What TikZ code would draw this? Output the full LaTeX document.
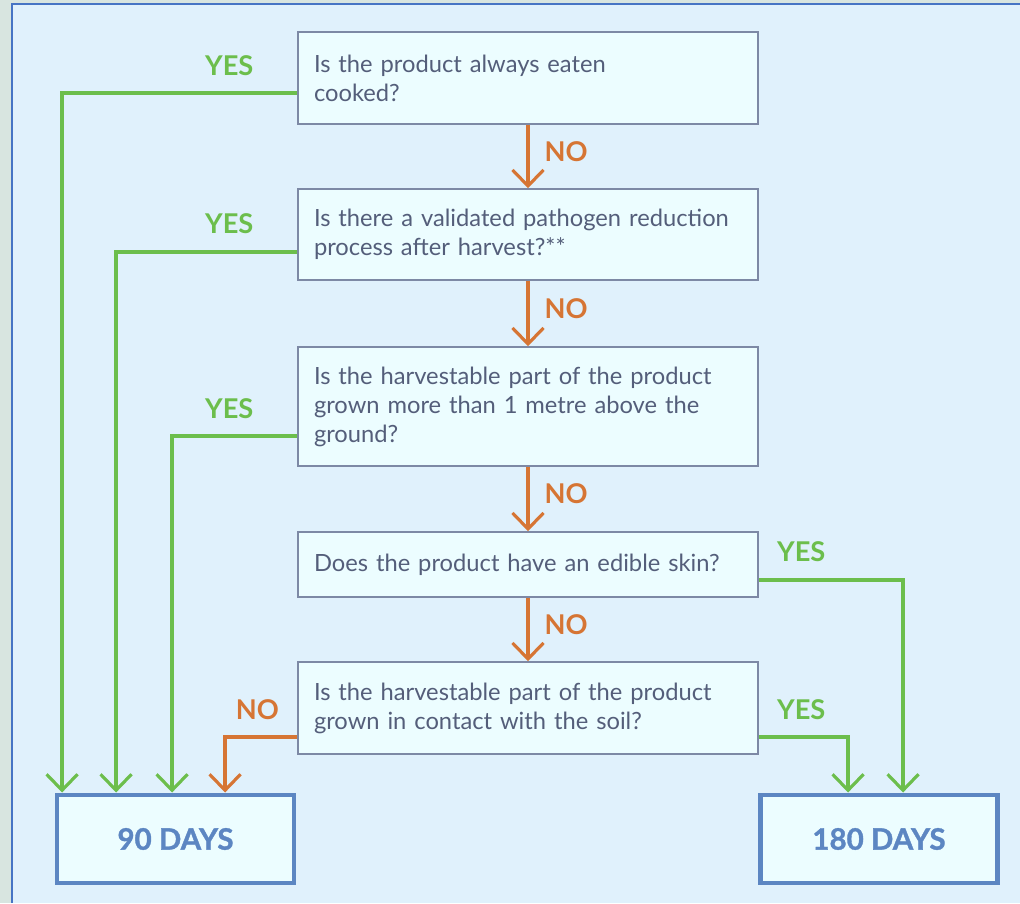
\documentclass[tikz,border=0pt]{standalone}
\usepackage{fontspec}
\setmainfont{Lato}
\newfontfamily\daysfont{Lato}[BoldFeatures={FakeBold=1.2}]
\usepackage{xcolor}
\usepackage{tikz}
\usetikzlibrary{arrows.meta}
\definecolor{page_grey}{RGB}{216, 229, 224}
\definecolor{chart_bg}{RGB}{224, 241, 252}
\definecolor{frame_blue}{RGB}{70, 116, 196}
\definecolor{box_fill}{RGB}{236, 253, 255}
\definecolor{box_line}{RGB}{125, 137, 165}
\definecolor{q_text}{RGB}{84, 94, 122}
\definecolor{yes_green}{RGB}{108, 190, 76}
\definecolor{no_orange}{RGB}{214, 117, 52}
\definecolor{days_blue}{RGB}{92, 134, 194}

\tikzset{
  question/.style={draw=box_line, line width=0.85pt, fill=box_fill, text=q_text,
                   text width=8.56cm, inner xsep=0.32cm, inner ysep=0pt, align=left,
                   font=\fontsize{13.5}{16.5}\selectfont},
  daysbox/.style={draw=days_blue, line width=2.8pt, fill=box_fill, text=days_blue,
                  minimum width=4.74cm, minimum height=1.76cm,
                  font=\daysfont\fontsize{16.8}{18}\selectfont\bfseries},
  yesline/.style={yes_green, line width=1.8pt,
                  -{Straight Barb[length=3.2mm, width=6.2mm]}},
  noline/.style={no_orange, line width=1.8pt,
                 -{Straight Barb[length=3.2mm, width=6.2mm]}},
  yeslbl/.style={text=yes_green, inner sep=0pt, font=\fontsize{15.5}{17}\selectfont\bfseries},
  nolbl/.style={text=no_orange, inner sep=0pt, font=\fontsize{15.5}{17}\selectfont\bfseries}
}

\begin{document}
\begin{tikzpicture}
        \useasboundingbox (0,0) rectangle (20.4,18.06);
        \fill[page_grey] (0,0) rectangle (20.4,18.06);
        \fill[chart_bg] (0.24,0) rectangle (20.4,17.98);
        \draw[frame_blue, line width=1.1pt] (0.24,0) -- (0.24,17.98) -- (20.4,17.98);

        \node[question, minimum height=1.84cm] (q_cooked) at (10.56,16.5)
              {Is the product always eaten\\cooked?};
        \node[question, minimum height=1.82cm] (q_process) at (10.56,13.37)
              {Is there a validated pathogen reduction\\process after harvest?**};
        \node[question, minimum height=2.38cm] (q_height) at (10.56,9.93)
              {Is the harvestable part of the product\\grown more than 1 metre above the\\ground?};
        \node[question, minimum height=1.3cm] (q_skin) at (10.56,6.77)
              {Does the product have an edible skin?};
        \node[question, minimum height=1.84cm] (q_soil) at (10.56,3.9)
              {Is the harvestable part of the product\\grown in contact with the soil?};

        \node[daysbox] (d_90) at (3.51,1.28) {90 DAYS};
        \node[daysbox] (d_180) at (17.58,1.28) {180 DAYS};

        \draw[noline] (q_cooked) -- (q_process)
              node[nolbl, anchor=west, pos=0.42, xshift=0.3cm] (n_cooked) {NO};
        \draw[noline] (q_process) -- (q_height)
              node[nolbl, anchor=west, pos=0.42, xshift=0.3cm] (n_process) {NO};
        \draw[noline] (q_height) -- (q_skin)
              node[nolbl, anchor=west, pos=0.42, xshift=0.3cm] (n_height) {NO};
        \draw[noline] (q_skin) -- (q_soil)
              node[nolbl, anchor=west, pos=0.42, xshift=0.3cm] (n_skin) {NO};

        \coordinate (c_cooked) at ([yshift=-3mm]q_cooked.west);
        \coordinate (c_process) at ([yshift=-3.5mm]q_process.west);
        \coordinate (c_height) at ([yshift=-5.9mm]q_height.west);
        \coordinate (c_soil_no) at ([yshift=-5.8mm]q_soil.west);
        \coordinate (c_skin) at ([yshift=-3.1mm]q_skin.east);
        \coordinate (c_soil_yes) at ([yshift=-5.8mm]q_soil.east);

        \draw[yesline] (c_cooked) -| ([xshift=1.5mm]d_90.north west);
        \draw[yesline] (c_process) -| ([xshift=12.3mm]d_90.north west);
        \draw[yesline] (c_height) -| ([xshift=23.5mm]d_90.north west);
        \draw[noline] (c_soil_no) -| ([xshift=34.1mm]d_90.north west);
        \draw[yesline] (c_skin) -| ([xshift=29mm]d_180.north west);
        \draw[yesline] (c_soil_yes) -| ([xshift=18mm]d_180.north west);

        \node[yeslbl, anchor=base east] (l_cooked) at ([xshift=-8.7mm, yshift=3.5mm]c_cooked) {YES};
        \node[yeslbl, anchor=base east] (l_process) at ([xshift=-8.7mm, yshift=3.6mm]c_process) {YES};
        \node[yeslbl, anchor=base east] (l_height) at ([xshift=-8.7mm, yshift=3.5mm]c_height) {YES};
        \node[nolbl, anchor=base east] (l_soil_no) at ([xshift=-3.6mm, yshift=3.5mm]c_soil_no) {NO};
        \node[yeslbl, anchor=base west] (l_skin) at ([xshift=3.6mm, yshift=3.6mm]c_skin) {YES};
        \node[yeslbl, anchor=base west] (l_soil_yes) at ([xshift=3.6mm, yshift=3.5mm]c_soil_yes) {YES};
      \end{tikzpicture}
\end{document}
